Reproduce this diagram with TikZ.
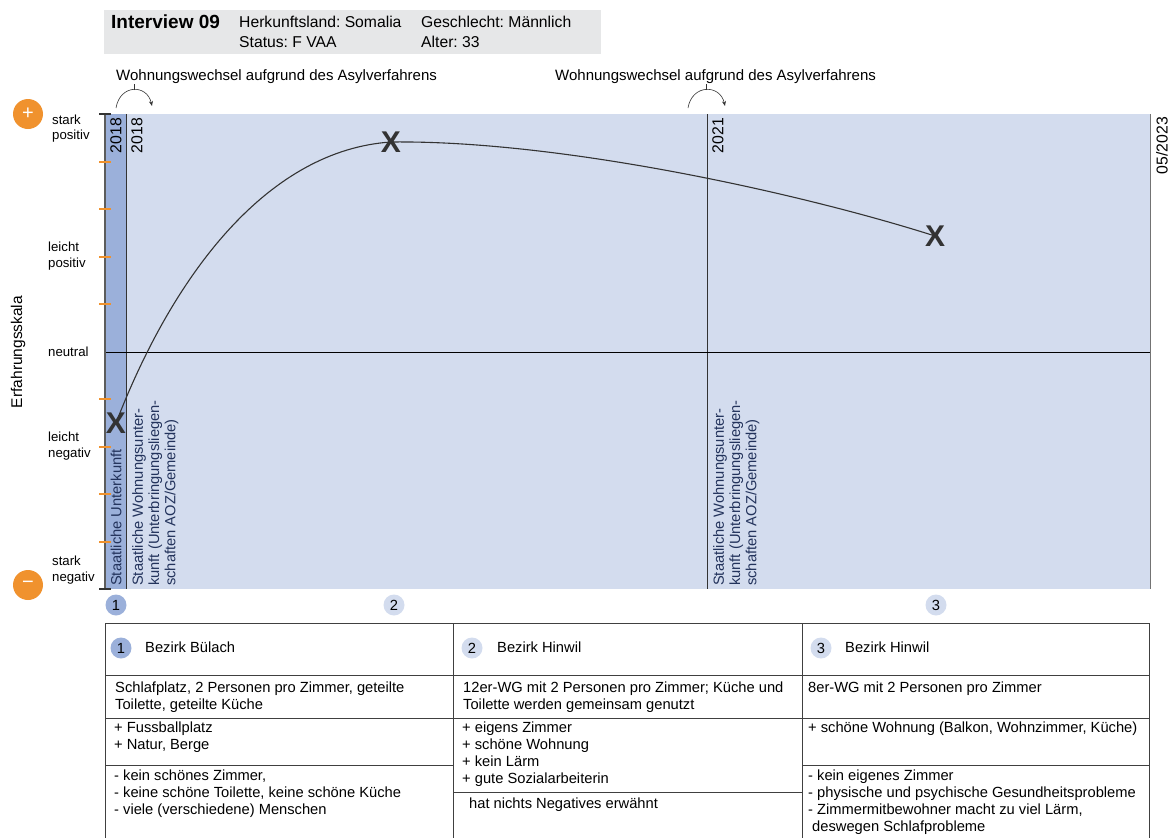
\documentclass[tikz,border=0pt]{standalone}
\usepackage{fontspec}
\setmainfont{Liberation Sans}
\usetikzlibrary{arrows.meta}
\definecolor{bglight}{HTML}{D3DCEE}
\definecolor{bgdark}{HTML}{9BB0DA}
\definecolor{orng}{HTML}{F0922E}
\definecolor{hdrgray}{HTML}{E6E7E8}
\definecolor{navy}{HTML}{23335C}
\definecolor{ink}{HTML}{333333}
\newcommand\fsmain{\fontsize{15}{16.5}\selectfont}
\newcommand\fsrot{\fontsize{14.7}{16.3}\selectfont}
\newcommand\fsyear{\fontsize{15.8}{17}\selectfont}
\newcommand\fstab{\fontsize{14.7}{16.8}\selectfont}
\newcommand\fsscale{\fontsize{13.2}{15.5}\selectfont}
\newcommand\fshdr{\fontsize{15.7}{18}\selectfont}
\frenchspacing
\begin{document}
\frenchspacing
\begin{tikzpicture}[x=1pt,y=-1pt,
  txt/.style={inner sep=0pt, font=\fsmain},
  hdr/.style={inner sep=0pt, anchor=west, font=\fshdr},
  cell/.style={inner sep=0pt, anchor=north west, align=left, font=\fstab},
  scl/.style={inner sep=0pt, anchor=west, align=left, font=\fsscale},
  numc/.style={circle, inner sep=0pt, minimum size=21pt, font=\fstab},
  rot/.style={rotate=90, inner sep=0pt, font=\fsrot},
  yr/.style={rotate=90, inner sep=0pt, font=\fsyear, anchor=east},
  rotblk/.style={rotate=90, inner sep=0pt, font=\fsrot, align=left, anchor=north west, text=navy},
  xmark/.style={inner sep=0pt, font=\bfseries\fontsize{30}{30}\selectfont, text=ink},
  tbl/.style={draw=black!75, line width=0.8pt},
  tick/.style={orng, line width=1.2pt},
  bigc/.style={circle, fill=orng, inner sep=0pt, minimum size=30pt, text=white, font=\fontsize{20}{20}\selectfont},
  swap/.style={-{Stealth[length=5pt,width=4pt]}, line width=0.6pt, draw=ink}
]
\useasboundingbox (0,0) rectangle (1171,838);

% header
\fill[hdrgray] (104,10) rectangle (601,54);
\node[inner sep=0pt, anchor=west, font=\bfseries\fontsize{19}{21}\selectfont] (iv) at (111,22) {Interview 09};
\node[hdr] (hk) at (239,22) {Herkunftsland: Somalia};
\node[hdr] (st) at (239,42) {Status: F VAA};
\node[hdr] (gs) at (421,22) {Geschlecht: Männlich};
\node[hdr] (al) at (421,42) {Alter: 33};

% moves
\node[txt, anchor=west] (ww1) at (116,77) {Wohnungswechsel aufgrund des Asylverfahrens};
\node[txt, anchor=west] (ww2) at (555,77) {Wohnungswechsel aufgrund des Asylverfahrens};
\coordinate (a1s) at (116,108); \coordinate (a1e) at (152,106); \coordinate (a1t) at (134,90);
\coordinate (a2s) at (688,108); \coordinate (a2e) at (725,106); \coordinate (a2t) at (706,90);
\draw[swap] (a1s) .. controls (120,84) and (147,84) .. (a1e);
\draw[swap] (a2s) .. controls (692,84) and (720,84) .. (a2e);
\draw[ink, line width=0.6pt] (a1t) -- (a1t |- ww1.south);
\draw[ink, line width=0.6pt] (a2t) -- (a2t |- ww2.south);

% chart background
\fill[bglight] (105,114) rectangle (1150,589);
\fill[bgdark] (105,114) rectangle (126,589);
\draw[ink, line width=0.9pt] (126,114) -- (126,589);
\draw[ink, line width=0.7pt] (707,114) -- (707,589);
\draw[black!55, line width=0.8pt] (1150,114) -- (1150,589);
\draw[black, line width=0.7pt] (105,352) -- (1150,352);
\draw[ink!80, line width=1.2pt] (105,114) -- (105,589);
\foreach \yy in {162,209,257,304,399,447,494,542} \draw[tick] (99,\yy) -- (111,\yy);
\draw[ink, line width=1.2pt] (99,114) -- (111,114);
\draw[ink, line width=1.2pt] (99,589) -- (111,589);

% scale labels
\node[bigc] (plus) at (28,114) {+};
\node[bigc] (minus) at (28,585) {−};
\node[scl] (sp) at (52,128.5) {stark\\positiv};
\node[scl] (lp) at (48,256) {leicht\\positiv};
\node[scl] (nt) at (48,352) {neutral};
\node[scl] (ln) at (48,446) {leicht\\negativ};
\node[scl] (sn) at (52,570) {stark\\negativ};
\node[rot, font=\fontsize{15.5}{17}\selectfont] (es) at (18,352) {Erfahrungsskala};

% years
\node[yr] (y1) at (116,118) {2018};
\node[yr] (y2) at (137,118) {2018};
\node[yr] (y3) at (718,118) {2021};
\node[yr] (y4) at (1162,117) {05/2023};

% housing labels
\node[rot, anchor=west, text=navy] (h1) at (116,586) {Staatliche Unterkunft};
\node[rotblk] (h2) at (132,586) {Staatliche Wohnungsunter-\\kunft (Unterbringungsliegen-\\schaften AOZ/Gemeinde)};
\node[rotblk] (h3) at (713,586) {Staatliche Wohnungsunter-\\kunft (Unterbringungsliegen-\\schaften AOZ/Gemeinde)};

% curve
\coordinate (p1) at (116,423);
\coordinate (p2) at (391,142);
\coordinate (p3) at (935,236);
\draw[ink, line width=1.1pt] (p1) .. controls (175,270) and (270,150) .. (p2) .. controls (560,140) and (800,193) .. (p3);
\node[xmark] (x1) at (p1) {X};
\node[xmark] (x2) at (p2) {X};
\node[xmark] (x3) at (p3) {X};

% number circles under chart
\node[numc, fill=bgdark] (n1) at (116,605) {1};
\node[numc, fill=bglight] (n2) at (394,605) {2};
\node[numc, fill=bglight] (n3) at (936,605) {3};

% table
\draw[tbl] (105,623) -- (1149,623);
\draw[tbl] (105,675) -- (1149,675);
\draw[tbl] (105,718) -- (1149,718);
\draw[tbl] (105,765) -- (453,765);
\draw[tbl] (453,792) -- (802,792);
\draw[tbl] (802,765) -- (1149,765);
\foreach \xx in {105,453,802,1149} \draw[tbl] (\xx,623) -- (\xx,838);

\node[numc, fill=bgdark] (t1) at (121,648) {1};
\node[numc, fill=bglight] (t2) at (472,648) {2};
\node[numc, fill=bglight] (t3) at (821,648) {3};
\node[inner sep=0pt, anchor=west, font=\fstab] (b1) at (145,647) {Bezirk Bülach};
\node[inner sep=0pt, anchor=west, font=\fstab] (b2) at (497,647) {Bezirk Hinwil};
\node[inner sep=0pt, anchor=west, font=\fstab] (b3) at (845,647) {Bezirk Hinwil};

\node[cell] (d1) at (115,682) {Schlafplatz, 2 Personen pro Zimmer, geteilte\\Toilette, geteilte Küche};
\node[cell] (d2) at (463,682) {12er-WG mit 2 Personen pro Zimmer; Küche und\\Toilette werden gemeinsam genutzt};
\node[cell] (d3) at (808,682) {8er-WG mit 2 Personen pro Zimmer};

\node[cell] (g1) at (114,722) {+ Fussballplatz\\+ Natur, Berge};
\node[cell] (g2) at (462,722) {+ eigens Zimmer\\+ schöne Wohnung\\+ kein Lärm\\+ gute Sozialarbeiterin};
\node[cell] (g3) at (808,722) {+ schöne Wohnung (Balkon, Wohnzimmer, Küche)};

\node[cell] (m1) at (114,770) {- kein schönes Zimmer,\\- keine schöne Toilette, keine schöne Küche\\- viele (verschiedene) Menschen};
\node[cell] (m2) at (469,798) {hat nichts Negatives erwähnt};
\node[cell] (m3) at (808,770) {- kein eigenes Zimmer\\- physische und psychische Gesundheitsprobleme\\- Zimmermitbewohner macht zu viel Lärm,\\\hspace*{4pt}deswegen Schlafprobleme};
\end{tikzpicture}
\end{document}
